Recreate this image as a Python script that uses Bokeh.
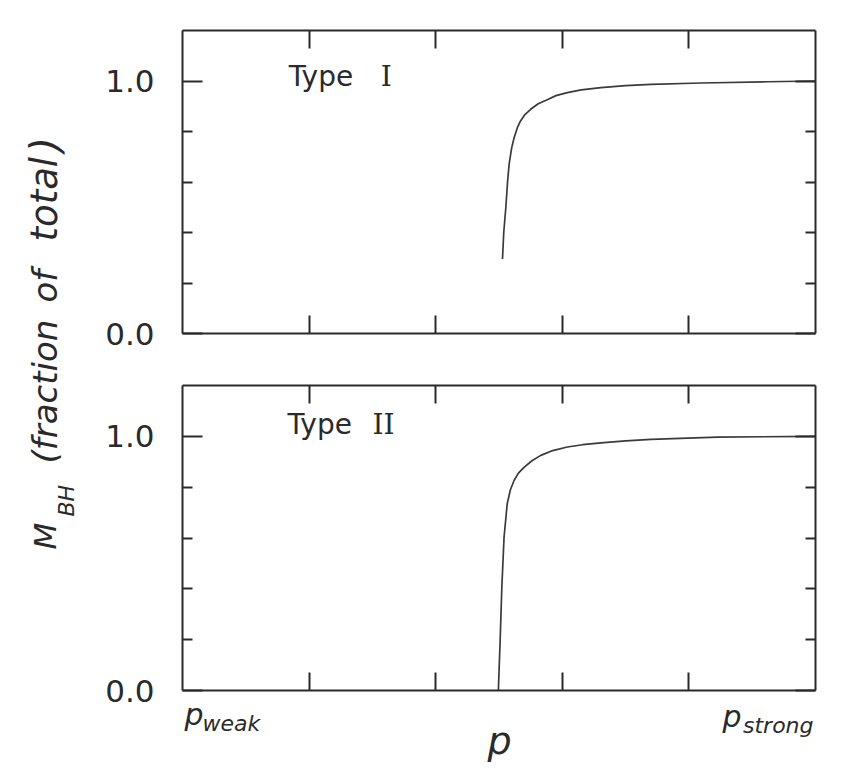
import math
from bokeh.plotting import figure
from bokeh.layouts import row, column
from bokeh.models import (Range1d, LinearAxis, FixedTicker, Label,
                          CustomJSTickFormatter, PrintfTickFormatter)
from bokeh.embed import file_html
from bokeh.resources import INLINE

# ---------------- data ----------------
p_type1 = [0.5055, 0.5075, 0.5108, 0.5135, 0.516, 0.520, 0.524, 0.529, 0.534,
           0.541, 0.550, 0.562, 0.577, 0.590, 0.608, 0.630, 0.661, 0.700,
           0.740, 0.819, 0.924, 1.0]
m_type1 = [0.295, 0.400, 0.499, 0.600, 0.671, 0.735, 0.776, 0.815, 0.842,
           0.867, 0.888, 0.910, 0.927, 0.942, 0.954, 0.965, 0.974, 0.982,
           0.987, 0.992, 0.997, 1.0]

p_type2 = [0.499, 0.502, 0.5045, 0.508, 0.513, 0.518, 0.524, 0.531, 0.540,
           0.552, 0.566, 0.585, 0.608, 0.632, 0.661, 0.700, 0.740, 0.845, 1.0]
m_type2 = [0.0, 0.21, 0.407, 0.604, 0.735, 0.790, 0.827, 0.856, 0.879,
           0.904, 0.925, 0.944, 0.958, 0.967, 0.974, 0.982, 0.988, 0.997, 1.0]

y_major_ticks = [0.0, 1.0]
y_minor_ticks = [0.2, 0.4, 0.6, 0.8]
x_ticks = [0.2, 0.4, 0.6, 0.8]

panel_titles = [("Type", "I"), ("Type", "II")]

INK = "#2a2a2a"
LINE_W = 2


def make_panel(height, top, bottom, curve_x, curve_y):
    p = figure(width=774, height=height, x_range=Range1d(0, 1), y_range=Range1d(0, 1.2),
               toolbar_location=None, output_backend="svg",
               x_axis_location=None, y_axis_location=None,
               min_border_left=102, min_border_right=39,
               min_border_top=top, min_border_bottom=bottom)
    p.outline_line_color = None
    p.grid.visible = False
    p.background_fill_color = "white"
    p.border_fill_color = "white"

    for side in ("left", "right"):
        ax = LinearAxis(ticker=FixedTicker(ticks=y_major_ticks, minor_ticks=y_minor_ticks))
        ax.major_tick_in = 20
        ax.major_tick_out = 0
        ax.minor_tick_in = 10
        ax.minor_tick_out = 0
        ax.axis_line_width = LINE_W
        ax.axis_line_color = INK
        ax.major_tick_line_width = LINE_W
        ax.major_tick_line_color = INK
        ax.minor_tick_line_width = LINE_W
        ax.minor_tick_line_color = INK
        if side == "left":
            ax.formatter = PrintfTickFormatter(format="%.1f")
            ax.major_label_standoff = 28
            ax.major_label_text_font = "DejaVu Sans"
            ax.major_label_text_font_size = "31px"
            ax.major_label_text_color = INK
        else:
            ax.formatter = CustomJSTickFormatter(code="return ''")
            ax.major_label_text_font_size = "0px"
        p.add_layout(ax, side)

    for side in ("below", "above"):
        ax = LinearAxis(ticker=FixedTicker(ticks=x_ticks, minor_ticks=[]))
        ax.major_tick_in = 18
        ax.major_tick_out = 0
        ax.minor_tick_in = 0
        ax.minor_tick_out = 0
        ax.axis_line_width = LINE_W
        ax.axis_line_color = INK
        ax.major_tick_line_width = LINE_W
        ax.major_tick_line_color = INK
        ax.formatter = CustomJSTickFormatter(code="return ''")
        ax.major_label_text_font_size = "0px"
        ax.major_label_standoff = 0
        p.add_layout(ax, side)

    p.line(curve_x, curve_y, line_color="#3a3a3a", line_width=1.7)
    return p


def blank(width, height, xr, yr, left=0, right=0, fill="white", styles=None):
    f = figure(width=width, height=height, x_range=Range1d(*xr), y_range=Range1d(*yr),
               toolbar_location=None, output_backend="svg",
               x_axis_location=None, y_axis_location=None, min_border=0,
               min_border_left=left, min_border_right=right)
    f.outline_line_color = None
    f.grid.visible = False
    f.background_fill_color = fill
    f.border_fill_color = fill
    if styles:
        f.styles = styles
    return f


p1 = make_panel(355, 30, 22, p_type1, m_type1)
p2 = make_panel(414, 30, 79, p_type2, m_type2)

# panel titles
def title(fig, x, y, text, font):
    fig.add_layout(Label(x=x, y=y, text=text, text_font=font, text_font_size="28px",
                         text_color=INK, text_baseline="alphabetic"))

title(p1, 0.168, 1.017, panel_titles[0][0], "DejaVu Sans")
title(p1, 0.313, 1.017, panel_titles[0][1], "DejaVu Serif")
title(p2, 0.166, 1.047, panel_titles[1][0], "DejaVu Sans")
title(p2, 0.300, 1.047, panel_titles[1][1], "DejaVu Serif")

def lab(fig, x, y, text, size, align="left", angle=0.0):
    fig.add_layout(Label(x=x, y=y, text=text, text_font="DejaVu Sans",
                         angle=angle, text_font_style="italic", text_font_size=size,
                         text_color=INK, text_align=align, text_baseline="alphabetic"))

# transparent strip laid over the bottom border of the lower panel
# (coordinates = page pixels)
strip = blank(774, 79, (182, 815), (769, 690), left=102, right=39, fill=None,
              styles={"margin-top": "-79px"})
lab(strip, 184, 714, "p", "30px")
lab(strip, 202, 723, "weak", "22px")
lab(strip, 741, 716, "p", "30px", "right")
lab(strip, 813, 725, "strong", "22px", "right")
lab(strip, 499, 740, "p", "38px", "center")

# y-axis title in a narrow side canvas (coordinates = page pixels)
lf = blank(80, 769, (0, 80), (769, 0))
A = math.pi / 2
lab(lf, 44, 549, "M", "31px", angle=A)
lab(lf, 66, 516, "BH", "22px", angle=A)
lab(lf, 44, 463, "(fraction", "34px", angle=A)
lab(lf, 44, 302, "of", "34px", angle=A)
lab(lf, 44, 241, "total", "37px", angle=A)
lab(lf, 44, 152, ")", "40px", angle=A)

layout = row(lf, column(p1, p2, strip))
open("out.html", "w").write(file_html(layout, INLINE))
